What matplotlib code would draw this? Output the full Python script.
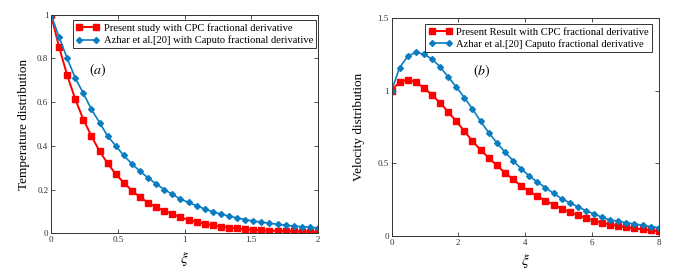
import matplotlib
matplotlib.use('Agg')
import matplotlib.pyplot as plt
from matplotlib.ticker import FuncFormatter

# Panel (a): temperature, xi from 0 to 2 (34 points)
xi_a = [0.0, 0.0606, 0.1212, 0.1818, 0.2424, 0.3030, 0.3636, 0.4242, 0.4848, 0.5455,
        0.6061, 0.6667, 0.7273, 0.7879, 0.8485, 0.9091, 0.9697, 1.0303, 1.0909, 1.1515,
        1.2121, 1.2727, 1.3333, 1.3939, 1.4545, 1.5152, 1.5758, 1.6364, 1.6970, 1.7576,
        1.8182, 1.8788, 1.9394, 2.0]
temp_cpc = [1.0, 0.851, 0.723, 0.613, 0.52, 0.445, 0.375, 0.32, 0.271, 0.231,
            0.195, 0.165, 0.14, 0.119, 0.103, 0.088, 0.073, 0.061, 0.052, 0.043,
            0.037, 0.031, 0.026, 0.022, 0.019, 0.016, 0.014, 0.012, 0.011, 0.010,
            0.009, 0.008, 0.007, 0.006]
temp_caputo = [1.0, 0.897, 0.80, 0.71, 0.64, 0.567, 0.506, 0.445, 0.40, 0.356,
               0.317, 0.284, 0.253, 0.226, 0.200, 0.178, 0.157, 0.141, 0.126, 0.111,
               0.098, 0.088, 0.079, 0.070, 0.063, 0.056, 0.051, 0.046, 0.041, 0.037,
               0.033, 0.030, 0.027, 0.024]

# Panel (b): velocity, xi from 0 to 8 (34 points)
xi_b = [0.0, 0.2424, 0.4848, 0.7273, 0.9697, 1.2121, 1.4545, 1.6970, 1.9394, 2.1818,
        2.4242, 2.6667, 2.9091, 3.1515, 3.3939, 3.6364, 3.8788, 4.1212, 4.3636, 4.6061,
        4.8485, 5.0909, 5.3333, 5.5758, 5.8182, 6.0606, 6.3030, 6.5455, 6.7879, 7.0303,
        7.2727, 7.5152, 7.7576, 8.0]
vel_cpc = [1.0, 1.063, 1.077, 1.059, 1.022, 0.972, 0.917, 0.855, 0.79, 0.722,
           0.653, 0.593, 0.538, 0.487, 0.436, 0.391, 0.345, 0.308, 0.276, 0.243,
           0.216, 0.188, 0.165, 0.143, 0.124, 0.105, 0.092, 0.078, 0.069, 0.060,
           0.052, 0.046, 0.040, 0.032]
vel_caputo = [1.0, 1.16, 1.238, 1.266, 1.252, 1.22, 1.165, 1.096, 1.027, 0.953,
              0.875, 0.79, 0.712, 0.643, 0.579, 0.519, 0.464, 0.414, 0.372, 0.333,
              0.294, 0.257, 0.229, 0.202, 0.174, 0.152, 0.129, 0.11, 0.101, 0.092,
              0.083, 0.074, 0.065, 0.058]

red = '#ff0000'
blue = '#0a7dc2'
serif = ['Liberation Serif', 'DejaVu Serif']

plt.rcParams['font.family'] = serif
plt.rcParams['mathtext.fontset'] = 'stix'

fig = plt.figure(figsize=(6.75, 2.73), dpi=100)
ax1 = fig.add_axes([0.0756, 0.1455, 0.3955, 0.8005])
ax2 = fig.add_axes([0.580, 0.1355, 0.396, 0.7975])

fmt = FuncFormatter(lambda v, p: '%g' % v)


def style_axes(ax):
	ax.tick_params(direction='in', top=True, right=True, labelsize=6.5,
	               length=3, width=0.6, colors='#333333', pad=2)
	for s in ax.spines.values():
		s.set_linewidth(0.7)
		s.set_color('#333333')
	ax.xaxis.set_major_formatter(fmt)
	ax.yaxis.set_major_formatter(fmt)


def add_legend(ax, anchor):
	leg = ax.legend(loc='upper right', bbox_to_anchor=anchor, fontsize=7.6,
	                numpoints=2, frameon=True, fancybox=False, edgecolor='black',
	                borderpad=0.3, handlelength=2.2, labelspacing=0.25,
	                borderaxespad=0, handletextpad=0.4)
	leg.get_frame().set_linewidth(0.7)


# (a) temperature
ax1.plot(xi_a, temp_cpc, color=red, marker='s', markersize=5, lw=1.4,
         label='Present study with CPC fractional derivative')
ax1.plot(xi_a, temp_caputo, color=blue, marker='D', markersize=3, lw=1.2,
         label='Azhar et al.[20] with Caputo fractional derivative')
ax1.set_xlim(0, 2)
ax1.set_ylim(0, 1)
ax1.set_xticks([0, 0.5, 1, 1.5, 2])
ax1.set_yticks([0, 0.2, 0.4, 0.6, 0.8, 1])
ax1.set_xlabel(r'$\xi$', fontsize=11, labelpad=4)
ax1.set_ylabel('Temperature distribution', fontsize=9.5, labelpad=5)
ax1.text(0.35, 0.747, r'$(a)$', fontsize=10, ha='center', va='center')
style_axes(ax1)
add_legend(ax1, (0.9925, 0.976))

# (b) velocity
ax2.plot(xi_b, vel_cpc, color=red, marker='s', markersize=5, lw=1.4,
         label='Present Result with CPC fractional derivative')
ax2.plot(xi_b, vel_caputo, color=blue, marker='D', markersize=3, lw=1.2,
         label='Azhar et al.[20] Caputo fractional derivative')
ax2.set_xlim(0, 8)
ax2.set_ylim(0, 1.5)
ax2.set_xticks([0, 2, 4, 6, 8])
ax2.set_yticks([0, 0.5, 1, 1.5])
ax2.set_xlabel(r'$\xi$', fontsize=11, labelpad=4)
ax2.set_ylabel('Velocity distribution', fontsize=9.5, labelpad=9)
ax2.text(2.69, 1.137, r'$(b)$', fontsize=10, ha='center', va='center')
style_axes(ax2)
add_legend(ax2, (0.974, 0.974))

fig.savefig('out.png', dpi=100)
